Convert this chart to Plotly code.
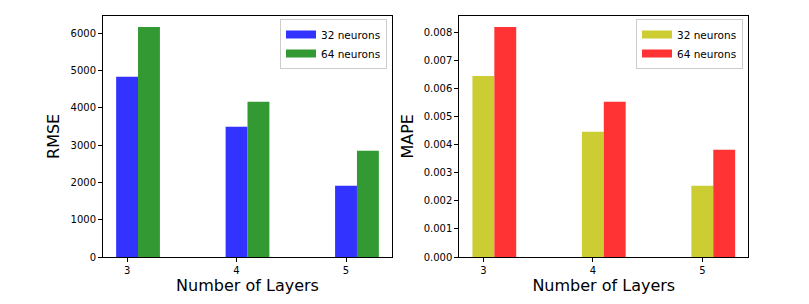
import plotly.graph_objects as go
from plotly.subplots import make_subplots

layers = [3, 4, 5]
rmse_32 = [4830, 3490, 1910]
rmse_64 = [6170, 4160, 2850]
mape_32 = [0.00645, 0.00446, 0.00254]
mape_64 = [0.0082, 0.00553, 0.00382]
series_names = ["32 neurons", "64 neurons"]

C_BLUE = "rgb(51,51,255)"
C_GREEN = "rgb(51,153,51)"
C_YELLOW = "rgb(204,204,51)"
C_RED = "rgb(255,51,51)"

FONT = "DejaVu Sans"

fig = make_subplots(rows=1, cols=2)

panels = [
    (1, "legend", [(rmse_32, C_BLUE, -0.1), (rmse_64, C_GREEN, 0.1)]),
    (2, "legend2", [(mape_32, C_YELLOW, -0.1), (mape_64, C_RED, 0.1)]),
]
for col, leg, series in panels:
    for name, (vals, color, off) in zip(series_names, series):
        fig.add_trace(go.Bar(x=layers, y=vals, width=0.2, offset=off, marker_color=color,
                             marker_line_width=0, name=name, showlegend=False), row=1, col=col)
    for name, (vals, color, off) in zip(series_names, series):
        # legend-only patch (wide rectangle like matplotlib legend handles)
        fig.add_trace(go.Scatter(x=[None], y=[None], mode="lines", line=dict(color=color, width=8),
                                 name=name, legend=leg, hoverinfo="skip"), row=1, col=col)

H = 304
W = 809
ydom = [1 - 257 / H, 1 - 15.7 / H]

axis_common = dict(showline=True, mirror=True, linecolor="black", linewidth=1,
                   ticks="outside", ticklen=4, tickcolor="black", showgrid=False,
                   zeroline=False, automargin=False,
                   tickfont=dict(family=FONT, size=10, color="black"))
title_font = dict(family=FONT, size=16, color="black")

fig.update_xaxes(**axis_common, range=[2.78, 5.42], tickvals=layers,
                 ticktext=[str(v) for v in layers])
fig.update_xaxes(domain=[103 / W, 392 / W], row=1, col=1,
                 title=dict(text="Number of Layers", font=title_font, standoff=2))
fig.update_xaxes(domain=[459.3 / W, 748.3 / W], row=1, col=2,
                 title=dict(text="Number of Layers", font=title_font, standoff=2))

fig.update_yaxes(**axis_common, domain=ydom)
fig.update_yaxes(row=1, col=1, range=[0, 6470], tickvals=[0, 1000, 2000, 3000, 4000, 5000, 6000],
                 title=dict(text="RMSE", font=title_font, standoff=6))
fig.update_yaxes(row=1, col=2, range=[0, 0.0086], tickformat=".3f",
                 tickvals=[0, 0.001, 0.002, 0.003, 0.004, 0.005, 0.006, 0.007, 0.008],
                 title=dict(text="MAPE", font=title_font, standoff=6))

legend_common = dict(bgcolor="white", bordercolor="rgb(204,204,204)", borderwidth=1,
                     font=dict(family=FONT, size=10.5, color="black"), xanchor="right", yanchor="top",
                     tracegroupgap=0, itemwidth=30)

fig.update_layout(
    width=W, height=H, margin=dict(l=0, r=0, t=0, b=0),
    paper_bgcolor="white", plot_bgcolor="white",
    barmode="overlay", showlegend=True,
    legend=dict(**legend_common, x=387 / W, y=1 - 19 / H),
    legend2=dict(**legend_common, x=743 / W, y=1 - 19 / H),
)

fig.write_html("out.html", config={"displayModeBar": False},
               post_script="document.body.style.margin='0';")
